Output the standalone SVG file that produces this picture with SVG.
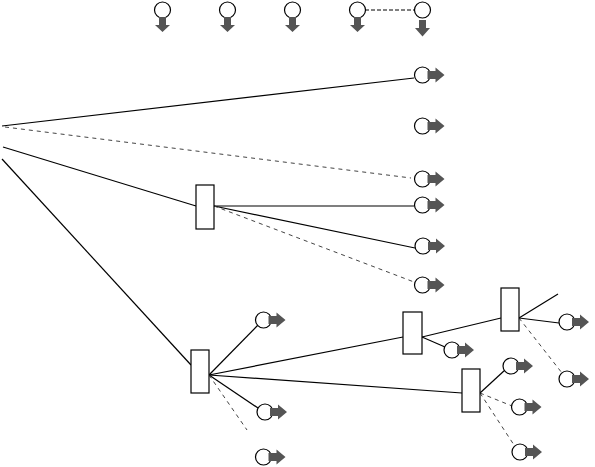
<svg xmlns="http://www.w3.org/2000/svg" width="595" height="467" viewBox="0 0 595 467">
<style>
.c{fill:#fff;stroke:#000;stroke-width:1.2}
.a{fill:#555;stroke:none}
.r{fill:#fff;stroke:#000;stroke-width:1.2}
.s{stroke:#000;stroke-width:1.2;fill:none}
.d{stroke:#444;stroke-width:1;fill:none;stroke-dasharray:4,4}
.t{stroke:#000;stroke-width:1;fill:none;stroke-dasharray:4,2}
</style>
<defs>
<g id="rc"><circle class="c" cx="0" cy="0" r="8"/><polygon class="a" points="5,-4 13,-4 13,-7.5 22,0 13,7.5 13,4 5,4"/></g>
<g id="dc"><circle class="c" cx="0" cy="0" r="8"/><polygon class="a" points="-3.5,7 3.5,7 3.5,15 7.5,15 0,22 -7.5,15 -3.5,15"/></g>
</defs>
<rect width="595" height="467" fill="#fff"/>
<g id="connectors">
<line class="t" x1="365" y1="10" x2="414" y2="10"/>
<line class="s" x1="2" y1="126" x2="414" y2="78"/>
<line class="d" x1="5" y1="127" x2="411" y2="178"/>
<line class="s" x1="3" y1="147" x2="196" y2="206"/>
<line class="s" x1="2" y1="159" x2="191" y2="365"/>
<line class="s" x1="214" y1="206" x2="414" y2="206"/>
<line class="s" x1="214" y1="206" x2="415" y2="248"/>
<line class="d" x1="214" y1="206" x2="414" y2="282"/>
<line class="s" x1="209" y1="375" x2="258" y2="325"/>
<line class="s" x1="209" y1="375" x2="403" y2="337"/>
<line class="s" x1="209" y1="375" x2="462" y2="393"/>
<line class="s" x1="209" y1="375" x2="258" y2="408"/>
<line class="d" x1="209" y1="375" x2="247" y2="430"/>
<line class="s" x1="422" y1="337" x2="501" y2="318"/>
<line class="s" x1="422" y1="337" x2="445" y2="347"/>
<line class="s" x1="519" y1="318" x2="558" y2="294"/>
<line class="s" x1="519" y1="318" x2="559" y2="323"/>
<line class="d" x1="519" y1="318" x2="562" y2="373"/>
<line class="s" x1="480" y1="393" x2="505" y2="370"/>
<line class="d" x1="480" y1="393" x2="512" y2="406"/>
<line class="d" x1="480" y1="393" x2="514" y2="445"/>
</g>
<g id="t1"><use href="#dc" x="162.5" y="10"/></g>
<g id="t2"><use href="#dc" x="227.5" y="10"/></g>
<g id="t3"><use href="#dc" x="292.5" y="10"/></g>
<g id="t4"><use href="#dc" x="357.5" y="10"/></g>
<g id="t5"><circle class="c" cx="422.5" cy="10" r="8"/><polygon class="a" points="419,20 426,20 426,28 430,28 422.5,36.5 415,28 419,28"/></g>
<g id="o1"><use href="#rc" x="422.5" y="75"/></g>
<g id="o2"><use href="#rc" x="422.5" y="126"/></g>
<g id="o3"><use href="#rc" x="422.5" y="179"/></g>
<g id="o4"><use href="#rc" x="422.5" y="205"/></g>
<g id="o5"><use href="#rc" x="423" y="246"/></g>
<g id="o6"><use href="#rc" x="422.5" y="285"/></g>
<g id="b1"><rect class="r" x="196" y="185" width="18" height="44"/></g>
<g id="b2"><rect class="r" x="191" y="350" width="18" height="43"/></g>
<g id="b3"><rect class="r" x="403" y="312" width="19" height="42"/></g>
<g id="b4"><rect class="r" x="462" y="369" width="18" height="43"/></g>
<g id="b5"><rect class="r" x="501" y="288" width="18" height="43"/></g>
<g id="p1"><use href="#rc" x="263.5" y="320"/></g>
<g id="p2"><use href="#rc" x="265" y="412"/></g>
<g id="p3"><use href="#rc" x="263.5" y="457"/></g>
<g id="p4"><use href="#rc" x="452" y="350"/></g>
<g id="p5"><use href="#rc" x="567" y="322"/></g>
<g id="p6"><use href="#rc" x="567" y="379"/></g>
<g id="p7"><use href="#rc" x="511" y="366"/></g>
<g id="p8"><use href="#rc" x="519.5" y="407"/></g>
<g id="p9"><use href="#rc" x="520" y="452"/></g>
</svg>
